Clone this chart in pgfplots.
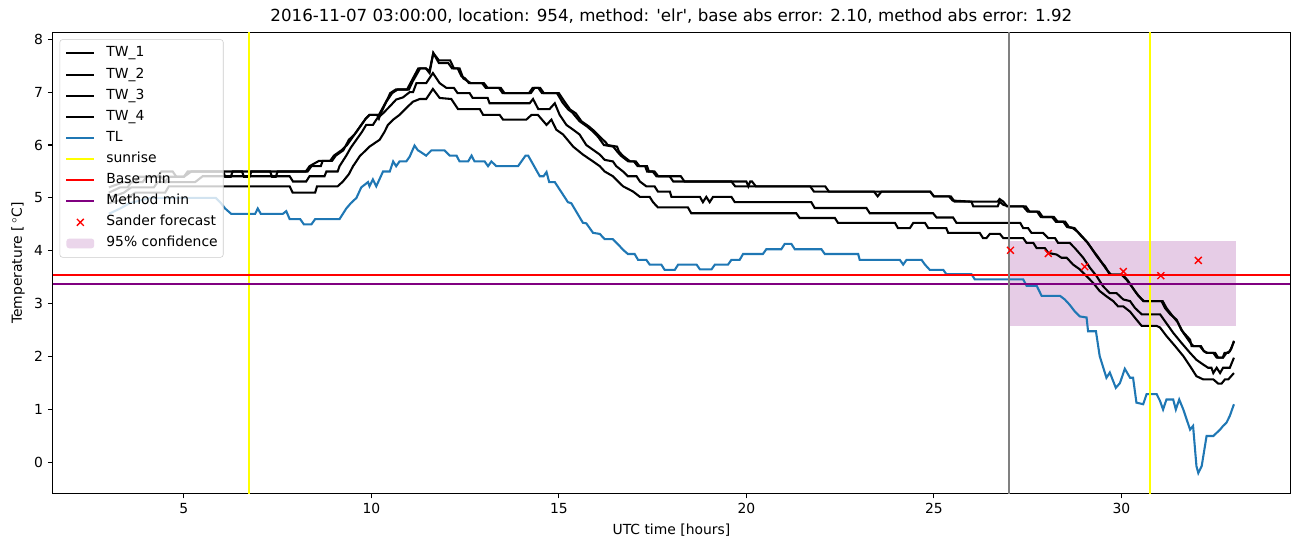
\documentclass[border=0pt]{standalone}
\usepackage{fontspec}
\setmainfont{DejaVu Sans}
\usepackage{pgfplots}
\pgfplotsset{compat=1.18}
\definecolor{tlblue}{HTML}{1F77B4}
\definecolor{sunyellow}{HTML}{FFFF00}
\definecolor{mpurple}{HTML}{800080}
\definecolor{mgray}{HTML}{808080}
\definecolor{conffill}{RGB}{230,204,230}
\begin{document}
\begin{tikzpicture}
\useasboundingbox (-37.9pt,-38.3pt) rectangle (899.5pt,355.4pt);
\begin{axis}[
  name=ax, at={(0,0)}, anchor=south west,
  scale only axis, width=891pt, height=332.1pt,
  xmin=1.5, xmax=34.5, ymin=-0.59, ymax=8.13,
  xtick={5,10,15,20,25,30}, ytick={0,1,2,3,4,5,6,7,8},
  tick pos=left, tick align=outside, major tick length=3.5pt,
  tick style={black, line width=0.8pt},
  axis line style={line width=0.8pt},
  /pgf/number format/assume math mode=true,
  ticklabel style={font=\fontsize{10}{12}\selectfont},
  title={2016-11-07 03:00:00, location: 954, method: \textquotesingle elr\textquotesingle, base abs error: 2.10, method abs error: 1.92},
  title style={at={(axis description cs:0.5,1.005)}, anchor=base, font=\fontsize{12}{14}\selectfont},
  xlabel={UTC time [hours]},
  xlabel style={at={(axis description cs:0.5,-0.0789)}, anchor=center, font=\fontsize{10}{12}\selectfont},
  ylabel={Temperature [\,$^\circ$C]},
  ylabel style={at={(axis description cs:-0.028,0.5)}, anchor=center, rotate=0, font=\fontsize{10}{12}\selectfont},
  legend cell align=left,
  legend image code/.code={\draw[mark repeat=2,mark phase=2,#1] plot coordinates {(0pt,0pt) (10pt,0pt) (20pt,0pt)};},
  legend style={at={(axis description cs:0.0056,0.985)}, anchor=north west,
    draw=black!20, rounded corners=2pt, fill=white, fill opacity=0.8, text opacity=1,
    font=\fontsize{10}{12}\selectfont, row sep=5.2pt, column sep=8pt, inner xsep=4pt, inner ysep=5pt,
    nodes={inner sep=0pt, text height=7.5pt, text depth=2.5pt}},
  every axis plot/.append style={line width=1.5pt},
]
% confidence band (drawn below lines)
\addplot[draw=none, fill=mpurple, fill opacity=0.2, forget plot] coordinates {(27.04,2.57) (27.04,4.19) (33.05,4.19) (33.05,2.57)} -- cycle;

% TW_1
\addplot[black] table {
3.0 5.1
3.3 5.2
3.5 5.2
3.6 5.3
3.9 5.3
4.0 5.4
4.4 5.4
4.5 5.3
4.6 5.4
5.0 5.4
5.1 5.5
8.25 5.5
8.35 5.6
8.6 5.7
8.9 5.7
9.0 5.8
9.2 5.9
9.35 6.0
9.45 6.1
9.55 6.2
9.7 6.35
9.85 6.5
9.95 6.57
10.2 6.57
10.3 6.7
10.45 6.9
10.5 6.98
10.65 7.05
10.95 7.05
11.1 7.25
11.25 7.45
11.45 7.45
11.55 7.4
11.65 7.74
11.8 7.55
12.05 7.55
12.15 7.45
12.3 7.45
12.4 7.3
12.5 7.26
12.6 7.17
12.95 7.17
13.05 7.08
13.4 7.08
13.5 6.98
14.2 6.98
14.3 7.08
14.45 7.08
14.55 6.98
14.95 6.98
15.1 6.8
15.25 6.67
15.35 6.62
15.55 6.45
15.75 6.35
15.9 6.26
16.05 6.15
16.2 6.0
16.45 5.97
16.55 5.88
16.65 5.8
16.85 5.69
17.0 5.69
17.1 5.6
17.3 5.6
17.35 5.5
17.5 5.5
17.6 5.41
17.95 5.41
18.05 5.31
19.6 5.31
19.7 5.22
21.7 5.22
21.8 5.12
23.4 5.12
23.5 5.03
23.6 5.12
24.9 5.12
25.0 5.03
25.4 5.03
25.5 4.95
26.0 4.93
26.7 4.93
26.75 4.98
26.85 4.93
26.95 4.84
27.38 4.84
27.5 4.74
27.75 4.74
27.85 4.64
28.15 4.64
28.25 4.55
28.45 4.55
28.55 4.45
28.7 4.43
28.85 4.35
29.07 4.18
29.2 4.05
29.34 3.90
29.45 3.8
29.56 3.71
29.69 3.55
30.0 3.55
30.14 3.45
30.25 3.35
30.4 3.2
30.58 3.05
31.07 3.05
31.16 2.92
31.3 2.8
31.47 2.70
31.6 2.5
31.83 2.32
31.87 2.20
32.09 2.2
32.18 2.12
32.27 2.07
32.45 2.07
32.54 1.98
32.71 1.98
32.8 2.07
32.89 2.1
33.0 2.28
};
\addlegendentry{TW\_1}

% TW_2
\addplot[black] table {
3.0 5.2
3.4 5.3
3.7 5.3
3.8 5.4
4.3 5.4
4.4 5.5
4.7 5.5
4.8 5.4
5.0 5.4
5.2 5.5
6.05 5.5
6.1 5.4
6.25 5.4
6.3 5.5
6.55 5.5
6.6 5.4
6.75 5.4
6.8 5.5
7.3 5.5
7.35 5.4
7.45 5.4
7.5 5.5
8.3 5.5
8.4 5.6
8.65 5.6
8.7 5.7
8.95 5.7
9.05 5.8
9.25 5.9
9.4 6.1
9.55 6.2
9.7 6.35
9.85 6.5
9.95 6.57
10.15 6.57
10.2 6.5
10.25 6.6
10.4 6.82
10.55 6.98
10.7 7.05
11.0 7.05
11.1 7.2
11.3 7.45
11.45 7.45
11.55 7.36
11.65 7.74
11.8 7.6
12.1 7.6
12.2 7.45
12.35 7.45
12.45 7.26
12.65 7.17
13.0 7.17
13.1 7.08
13.45 7.08
13.55 6.98
14.25 6.98
14.35 7.08
14.5 7.08
14.6 6.98
15.0 6.98
15.15 6.82
15.3 6.67
15.45 6.6
15.6 6.45
15.8 6.35
15.95 6.26
16.1 6.15
16.25 6.05
16.3 6.0
16.55 5.97
16.6 5.88
16.7 5.8
16.9 5.69
17.05 5.69
17.15 5.6
17.35 5.6
17.4 5.5
17.55 5.5
17.65 5.41
18.25 5.41
18.35 5.31
20.0 5.31
20.05 5.22
20.1 5.31
20.15 5.31
20.25 5.22
22.1 5.22
22.2 5.12
24.9 5.12
25.0 5.03
25.45 5.03
25.55 4.93
26.0 4.93
26.05 4.84
26.7 4.84
26.75 4.93
26.85 4.87
27.0 4.84
27.45 4.84
27.55 4.74
27.8 4.74
27.9 4.64
28.2 4.64
28.3 4.55
28.5 4.55
28.6 4.45
28.75 4.43
28.9 4.3
29.1 4.15
29.25 4.0
29.38 3.88
29.5 3.75
29.6 3.65
29.72 3.55
30.02 3.55
30.16 3.45
30.3 3.3
30.45 3.15
30.6 3.05
31.1 3.05
31.2 2.92
31.35 2.78
31.5 2.65
31.65 2.45
31.85 2.25
31.92 2.2
32.12 2.2
32.2 2.1
32.3 2.07
32.5 2.07
32.58 1.98
32.7 1.98
32.75 2.07
32.85 2.07
32.93 2.15
33.0 2.3
};
\addlegendentry{TW\_2}

% TW_3
\addplot[black] table {
3.0 5.0
3.4 5.1
3.6 5.2
4.2 5.2
4.3 5.3
5.3 5.3
5.5 5.41
7.82 5.41
7.91 5.31
8.26 5.31
8.35 5.41
8.75 5.41
8.8 5.5
9.1 5.5
9.15 5.6
9.33 5.8
9.45 5.95
9.6 6.1
9.75 6.25
9.86 6.38
10.04 6.38
10.15 6.5
10.31 6.6
10.49 6.73
10.66 6.86
10.84 6.9
11.02 7.0
11.11 7.0
11.2 7.17
11.46 7.17
11.64 7.36
11.82 7.17
12.0 7.08
12.2 7.08
12.3 6.98
12.62 6.98
12.7 6.89
13.1 6.89
13.15 6.79
14.22 6.79
14.31 6.87
14.45 6.68
14.75 6.68
14.89 6.79
15.02 6.57
15.2 6.38
15.38 6.29
15.55 6.2
15.64 6.1
15.73 6.0
15.91 5.91
16.09 5.82
16.22 5.72
16.44 5.69
16.53 5.6
16.71 5.5
16.84 5.41
17.07 5.41
17.16 5.31
17.33 5.22
17.55 5.22
17.64 5.12
17.96 5.12
18.0 5.02
18.76 5.02
18.84 4.92
18.93 5.02
19.02 4.92
19.11 5.02
19.6 5.02
19.69 4.92
21.73 4.92
21.82 4.81
23.2 4.81
23.29 4.71
24.98 4.71
25.07 4.63
25.51 4.63
25.6 4.53
27.3 4.53
27.38 4.43
27.51 4.43
27.6 4.34
27.91 4.34
28.05 4.24
28.23 4.24
28.31 4.15
28.62 4.15
28.76 4.05
28.98 3.87
29.16 3.68
29.34 3.52
29.51 3.33
29.69 3.2
29.87 3.2
30.05 3.08
30.23 3.05
30.36 2.92
30.54 2.80
31.03 2.8
31.16 2.67
31.38 2.45
31.6 2.26
31.83 2.07
32.0 1.94
32.18 1.85
32.31 1.79
32.4 1.79
32.45 1.69
32.54 1.79
32.63 1.69
32.71 1.79
32.89 1.79
33.0 1.98
};
\addlegendentry{TW\_3}

% TW_4
\addplot[black] table {
3.0 4.9
3.5 5.0
3.7 5.1
4.5 5.1
4.6 5.22
7.82 5.22
7.9 5.1
8.5 5.1
8.55 5.22
9.1 5.22
9.24 5.31
9.4 5.45
9.51 5.6
9.69 5.79
9.95 5.97
10.22 6.1
10.35 6.25
10.44 6.38
10.58 6.48
10.75 6.57
10.93 6.7
11.11 6.82
11.29 6.87
11.46 6.87
11.64 7.06
11.82 6.89
12.13 6.87
12.31 6.68
12.89 6.68
12.98 6.57
13.42 6.57
13.51 6.48
14.13 6.48
14.27 6.57
14.44 6.57
14.67 6.38
14.8 6.48
14.93 6.29
15.11 6.2
15.38 5.97
15.64 5.82
15.91 5.69
16.09 5.6
16.22 5.5
16.44 5.41
16.58 5.31
16.71 5.22
16.98 5.12
17.16 5.02
17.42 5.02
17.51 4.92
17.64 4.82
18.44 4.82
18.53 4.71
21.33 4.71
21.42 4.62
22.36 4.62
22.44 4.53
23.96 4.53
24.04 4.43
24.36 4.43
24.45 4.53
24.76 4.53
24.85 4.43
25.33 4.43
25.38 4.34
26.22 4.34
26.31 4.24
26.4 4.24
26.49 4.32
26.76 4.32
26.85 4.24
27.38 4.24
27.47 4.15
27.65 4.15
27.74 4.05
27.96 4.05
28.05 3.96
28.27 3.93
28.4 3.87
28.54 3.87
28.71 3.74
28.89 3.65
29.07 3.52
29.25 3.39
29.42 3.24
29.6 3.14
29.78 3.05
29.91 2.95
30.05 2.95
30.23 2.85
30.4 2.70
30.54 2.58
30.94 2.58
31.03 2.55
31.2 2.39
31.43 2.20
31.65 2.01
31.83 1.82
32.0 1.63
32.18 1.57
32.45 1.57
32.58 1.49
32.67 1.49
32.76 1.57
32.85 1.57
33.0 1.69
};
\addlegendentry{TW\_4}

% TL
\addplot[tlblue] table {
3.0 4.7
3.3 4.8
3.55 4.9
4.1 5.0
5.85 5.0
5.99 4.9
6.1 4.8
6.26 4.7
6.75 4.7
6.9 4.7
6.97 4.8
7.05 4.7
7.64 4.7
7.73 4.75
7.82 4.6
8.1 4.6
8.2 4.5
8.4 4.5
8.5 4.6
9.15 4.6
9.33 4.8
9.45 4.9
9.6 5.0
9.73 5.2
9.91 5.3
9.95 5.22
10.04 5.35
10.13 5.22
10.31 5.5
10.49 5.5
10.58 5.69
10.66 5.6
10.75 5.69
10.93 5.69
11.02 5.78
11.15 5.99
11.24 5.9
11.29 5.88
11.46 5.8
11.6 5.9
11.95 5.9
12.09 5.8
12.27 5.8
12.35 5.69
12.58 5.69
12.67 5.8
12.75 5.69
13.02 5.69
13.11 5.6
13.2 5.69
13.33 5.6
13.91 5.6
14.11 5.8
14.18 5.8
14.49 5.41
14.59 5.41
14.67 5.49
14.74 5.3
14.89 5.3
15.24 4.92
15.33 4.9
15.64 4.53
15.73 4.52
15.91 4.34
16.09 4.32
16.22 4.22
16.44 4.22
16.58 4.12
16.71 4.02
16.84 3.94
17.02 3.94
17.11 3.83
17.33 3.83
17.42 3.74
17.73 3.74
17.82 3.64
18.09 3.64
18.18 3.74
18.67 3.74
18.76 3.65
19.07 3.65
19.16 3.74
19.51 3.74
19.6 3.83
19.82 3.83
19.91 3.94
20.44 3.94
20.53 4.03
20.93 4.03
21.02 4.13
21.2 4.13
21.29 4.03
22.0 4.03
22.09 3.94
22.98 3.94
23.02 3.83
24.09 3.83
24.18 3.74
24.27 3.83
24.67 3.83
24.76 3.74
24.89 3.64
25.25 3.64
25.33 3.56
26.0 3.56
26.09 3.46
27.38 3.46
27.47 3.34
27.74 3.34
27.87 3.15
28.36 3.15
28.49 3.08
28.62 2.98
28.76 2.85
28.89 2.76
29.07 2.74
29.11 2.48
29.32 2.48
29.42 2.01
29.6 1.6
29.69 1.7
29.85 1.41
29.96 1.5
30.09 1.77
30.23 1.6
30.31 1.6
30.4 1.13
30.58 1.1
30.67 1.29
30.94 1.29
31.03 1.16
31.11 1.0
31.2 1.19
31.38 1.19
31.45 1.0
31.54 1.19
31.65 1.0
31.74 0.81
31.83 0.62
31.91 0.69
32.0 -0.07
32.05 -0.2
32.14 -0.07
32.27 0.5
32.45 0.5
32.54 0.56
32.63 0.62
32.71 0.69
32.8 0.75
32.89 0.88
33.0 1.10
};
\addlegendentry{TL}

% sunrise
\addplot[sunyellow] coordinates {(6.73,-0.59) (6.73,8.13)};
\addlegendentry{sunrise}
\addplot[sunyellow, forget plot] coordinates {(30.77,-0.59) (30.77,8.13)};

% base min / method min
\addplot[red] coordinates {(1.5,3.54) (34.5,3.54)};
\addlegendentry{Base min}
\addplot[mpurple] coordinates {(1.5,3.37) (34.5,3.37)};
\addlegendentry{Method min}

% forecast time
\addplot[mgray, forget plot] coordinates {(27.0,-0.59) (27.0,8.13)};

% Sander forecast
\addplot[red, only marks, mark=x, mark size=3.5pt, line width=1pt] coordinates {
(27.04,4.01) (28.05,3.95) (29.02,3.70) (30.05,3.61) (31.05,3.53) (32.05,3.82)
};
\addlegendentry{Sander forecast}

\addlegendimage{draw=none, legend image code/.code={\path[draw=none, fill=conffill] (0pt,-3.5pt) rectangle (20pt,3.5pt);}}
\addlegendentry{95\% confidence}
\end{axis}
\end{tikzpicture}
\end{document}
